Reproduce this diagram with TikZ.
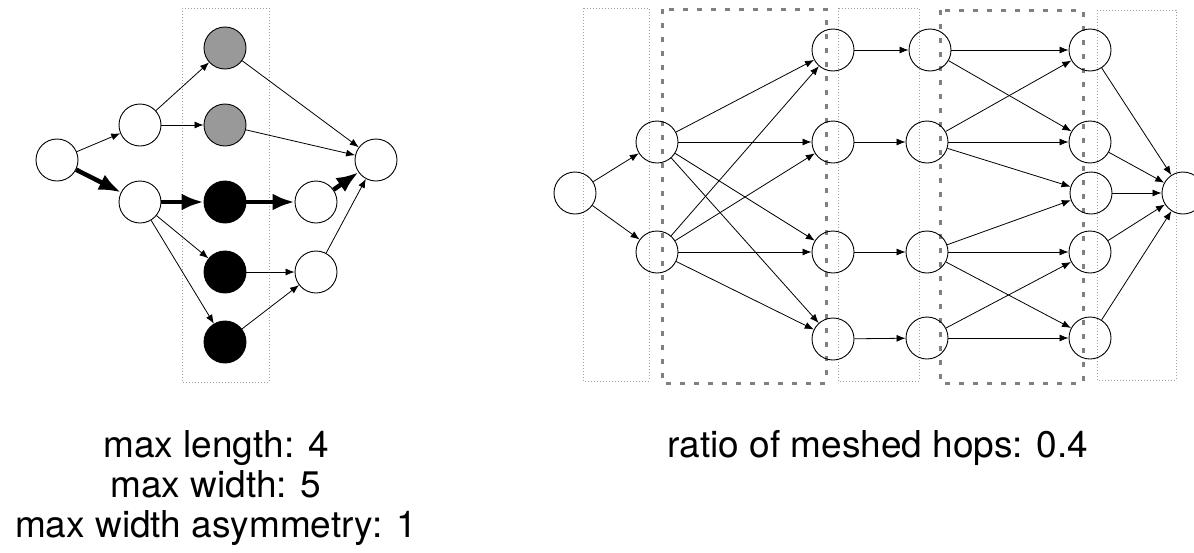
\documentclass[tikz,border=0pt]{standalone}
\usepackage{fontspec}
\setmainfont{TeX Gyre Heros}
\usetikzlibrary{arrows.meta}
\begin{document}
\begin{tikzpicture}[x=1pt,y=-1pt,
  nd/.style={circle,draw,line width=0.9pt,minimum size=42pt,inner sep=0pt},
  wnd/.style={nd,fill=white},
  gnd/.style={nd,fill={rgb,255:red,153;green,153;blue,153}},
  bnd/.style={nd,fill=black},
  edge/.style={line width=0.8pt,-{Latex[length=9pt,width=7pt]}},
  thick edge/.style={line width=4.5pt,-{Latex[length=22pt,width=17pt]}},
  dotbox/.style={draw={rgb,255:red,160;green,160;blue,160},line width=0.8pt,dash pattern=on 1pt off 2pt},
  dashbox/.style={draw={rgb,255:red,128;green,128;blue,128},line width=3pt,dash pattern=on 5pt off 9pt},
  lbl/.style={anchor=base,inner sep=0pt,font=\fontsize{37}{40}\selectfont}
]
\useasboundingbox (0,0) rectangle (1194,552);
% ---------- left graph ----------
\draw[dotbox] (182,8) rectangle (269,382);
\node[wnd] (A) at (57,160) {};
\node[wnd] (B1) at (140,125) {};
\node[wnd] (B2) at (140,202) {};
\node[gnd] (G1) at (225,48) {};
\node[gnd] (G2) at (225,125) {};
\node[bnd] (K1) at (225,202) {};
\node[bnd] (K2) at (225,272) {};
\node[bnd] (K3) at (225,342) {};
\node[wnd] (D1) at (316,202) {};
\node[wnd] (D2) at (316,272) {};
\node[wnd] (T) at (376,160) {};
\draw[edge] (A) -- (B1);
\draw[thick edge] (A) -- (B2);
\draw[edge] (B1) -- (G1);
\draw[edge] (B1) -- (G2);
\draw[thick edge] (B2) -- (K1);
\draw[edge] (B2) -- (K2);
\draw[edge] (B2) -- (K3);
\draw[edge] (G1) -- (T);
\draw[edge] (G2) -- (T);
\draw[thick edge] (K1) -- (D1);
\draw[edge] (K2) -- (D2);
\draw[edge] (K3) -- (D2);
\draw[thick edge] (D1) -- (T);
\draw[edge] (D2) -- (T);
% ---------- right graph ----------
\draw[dotbox] (583,8) rectangle (649,381);
\draw[dotbox] (838,8) rectangle (919,381);
\draw[dotbox] (1097,10) rectangle (1176,380);
\draw[dashbox] (662,9) rectangle (826,383);
\draw[dashbox] (940,10) rectangle (1083,383);
\node[nd] (S) at (575,193) {};
\node[nd] (P1) at (657,142) {};
\node[nd] (P2) at (657,252) {};
\node[nd] (Q1) at (833,50) {};
\node[nd] (Q2) at (833,142) {};
\node[nd] (Q3) at (833,252) {};
\node[nd] (Q4) at (833,339) {};
\node[nd] (R1) at (930,50) {};
\node[nd] (R2) at (927,142) {};
\node[nd] (R3) at (927,252) {};
\node[nd] (R4) at (927,338) {};
\node[nd] (U1) at (1090,50) {};
\node[nd] (U2) at (1090,142) {};
\node[nd] (U3) at (1091,193) {};
\node[nd] (U4) at (1090,252) {};
\node[nd] (U5) at (1090,338) {};
\node[nd] (Z) at (1183,193) {};
\draw[edge] (S) -- (P1);
\draw[edge] (S) -- (P2);
\foreach \p in {P1,P2}{
  \foreach \q in {Q1,Q2,Q3,Q4}{
    \draw[edge] (\p) -- (\q);
  }
}
\draw[edge] (Q1) -- (R1);
\draw[edge] (Q2) -- (R2);
\draw[edge] (Q3) -- (R3);
\draw[edge] (Q4) -- (R4);
\draw[edge] (R1) -- (U1);
\draw[edge] (R1) -- (U2);
\draw[edge] (R2) -- (U1);
\draw[edge] (R2) -- (U2);
\draw[edge] (R2) -- (U3);
\draw[edge] (R3) -- (U3);
\draw[edge] (R3) -- (U4);
\draw[edge] (R3) -- (U5);
\draw[edge] (R4) -- (U4);
\draw[edge] (R4) -- (U5);
\foreach \u in {U1,U2,U3,U4,U5}{
  \draw[edge] (\u) -- (Z);
}
% ---------- labels ----------
\node[lbl] (t1) at (216,457) {max length: 4};
\node[lbl] (t2) at (216,497) {max width: 5};
\node[lbl] (t3) at (216,537) {max width asymmetry: 1};
\node[lbl] (t4) at (878,457) {ratio of meshed hops: 0.4};
\end{tikzpicture}
\end{document}
